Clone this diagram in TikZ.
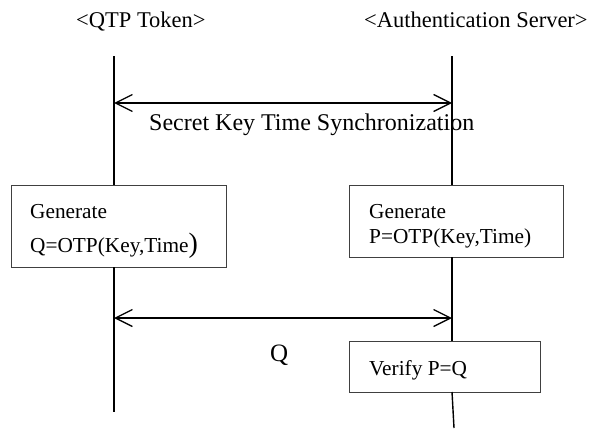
\documentclass[tikz,border=0pt]{standalone}
\usepackage{fontspec}
\setmainfont{Liberation Serif}
\usetikzlibrary{arrows.meta}
\begin{document}
\begin{tikzpicture}[x=1pt,y=-1pt,
  lifeline/.style={line width=1.4pt},
  procbox/.style={draw=black!75,line width=0.9pt},
  msg/.style={line width=1.6pt,{Straight Barb[length=17pt,width=17pt,line width=1.3pt]}-{Straight Barb[length=17pt,width=17pt,line width=1.3pt]}},
  lbl/.style={inner sep=0pt,anchor=base west},
  txtA/.style={font=\fontsize{22.5}{26}\selectfont},
  txtB/.style={font=\fontsize{21.3}{25}\selectfont}]
\useasboundingbox (0,0) rectangle (604,428);

% column headings
\node[lbl,txtA] (hA) at (76,28) {<QTP Token>};
\node[lbl,txtA] (hB) at (364,28) {<Authentication Server>};

% processing boxes
\draw[procbox] (11,185) rectangle (226,267);
\coordinate (genQtop) at (114,185);
\coordinate (genQbot) at (114,267);
\draw[procbox] (349,185) rectangle (563,257);
\coordinate (genPtop) at (452,185);
\coordinate (genPbot) at (452,257);
\draw[procbox] (349,341) rectangle (540,392);
\coordinate (vertop) at (452,341);
\coordinate (verbot) at (452,392);

\node[lbl,txtB] (g1) at (30,218) {Generate};
\node[lbl,txtB] (g2) at (30,252) {Q=OTP(Key,Time{\fontsize{28}{28}\selectfont )}};
\node[lbl,txtB] (g3) at (369,218) {Generate};
\node[lbl,txtB] (g4) at (369,243) {P=OTP(Key,Time)};
\node[lbl,txtB] (v1) at (369,375) {Verify P=Q};

% lifelines
\coordinate (aTop) at (114,56);
\coordinate (aEnd) at (114,412);
\coordinate (bTop) at (452,56);
\coordinate (bEnd) at (454,428);
\draw[lifeline] (aTop) -- (genQtop);
\draw[lifeline] (genQbot) -- (aEnd);
\draw[lifeline] (bTop) -- (genPtop);
\draw[lifeline] (genPbot) -- (vertop);
\draw[lifeline] (verbot) -- (bEnd);

% messages
\coordinate (m1a) at (114,103);
\coordinate (m1b) at (452,103);
\draw[msg] (m1a) -- (m1b);
\node[lbl,font=\fontsize{24}{28}\selectfont] (m1l) at (149,130) {Secret Key Time Synchronization};

\coordinate (m2a) at (114,318);
\coordinate (m2b) at (452,318);
\draw[msg] (m2a) -- (m2b);
\node[lbl,font=\fontsize{25}{30}\selectfont] (m2l) at (270,361) {Q};
\end{tikzpicture}
\end{document}
